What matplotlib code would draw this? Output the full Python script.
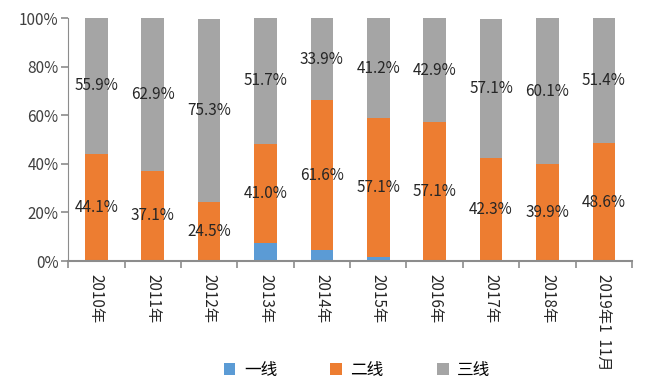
import matplotlib.pyplot as plt
import numpy as np

plt.rcParams['font.family'] = ['Noto Sans CJK SC', 'DejaVu Sans']

years = ['2010年', '2011年', '2012年', '2013年', '2014年', '2015年',
         '2016年', '2017年', '2018年', '2019年1  11月']
tier1 = [0.0, 0.0, 0.0, 7.3, 4.5, 1.7, 0.0, 0.0, 0.0, 0.0]
tier2 = [44.1, 37.1, 24.5, 41.0, 61.6, 57.1, 57.1, 42.3, 39.9, 48.6]
tier3 = [55.9, 62.9, 75.3, 51.7, 33.9, 41.2, 42.9, 57.1, 60.1, 51.4]

c1, c2, c3 = '#5B9BD5', '#ED7D31', '#A5A5A5'
axis_col = '#8C8C8C'

fig = plt.figure(figsize=(6.55, 3.92), dpi=100)
ax = fig.add_axes([0.104, 0.334, 0.861, 0.62])

x = np.arange(len(years))
t1 = np.array(tier1)
t2 = np.array(tier2)
t3 = np.array(tier3)
w = 0.4

ax.bar(x, t1, w, color=c1, label='一线')
ax.bar(x, t2, w, bottom=t1, color=c2, label='二线')
ax.bar(x, t3, w, bottom=t1 + t2, color=c3, label='三线')

for i in range(len(x)):
    ax.text(x[i], t1[i] + t2[i] / 2, f'{t2[i]:.1f}%', ha='center', va='center',
            fontsize=11, color='#262626')
    ax.text(x[i], t1[i] + t2[i] + t3[i] / 2, f'{t3[i]:.1f}%', ha='center', va='center',
            fontsize=11, color='#262626')

ax.set_xlim(-0.5, len(x) - 0.5)
ax.set_ylim(0, 100)
ax.set_yticks(np.arange(0, 101, 20))
ax.set_yticklabels([f'{v}%' for v in range(0, 101, 20)], fontsize=11, color='#404040')

ax.set_xticks(x)
ax.set_xticklabels(years, rotation=270, fontsize=11, color='#262626',
                   va='top', ha='center')
ax.tick_params(axis='x', length=0, pad=9)
ax.set_xticks(np.arange(-0.5, len(x), 1), minor=True)
ax.tick_params(axis='x', which='minor', length=5, color=axis_col, width=1.2)
ax.tick_params(axis='y', length=5, color=axis_col, width=1.2, pad=2)

for s in ['top', 'right']:
    ax.spines[s].set_visible(False)
ax.spines['left'].set_color(axis_col)
ax.spines['bottom'].set_color(axis_col)
ax.spines['bottom'].set_linewidth(1.5)

fig.legend(loc='lower center', bbox_to_anchor=(0.545, -0.005), ncol=3, frameon=False,
           fontsize=12, handlelength=0.7, handleheight=0.7, columnspacing=3.2,
           handletextpad=0.5)

fig.savefig('out.png', dpi=100)
